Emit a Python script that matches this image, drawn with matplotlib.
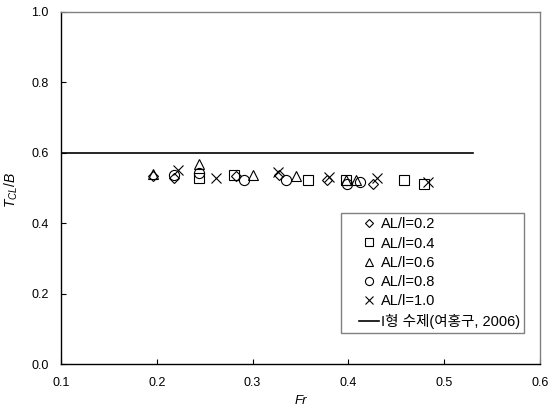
import matplotlib
matplotlib.use("Agg")
import numpy as np
import matplotlib.pyplot as plt
from matplotlib.legend_handler import HandlerLine2D

plt.rcParams['font.family'] = ['Liberation Sans', 'Noto Sans CJK KR', 'DejaVu Sans']
plt.rcParams['mathtext.fontset'] = 'custom'
plt.rcParams['mathtext.it'] = 'Liberation Sans:italic'
plt.rcParams['mathtext.rm'] = 'Liberation Sans'

# Measured points (Fr, T_CL/B) for each AL/l ratio
fr_02 = [0.196, 0.218, 0.283, 0.328, 0.378, 0.426]
tb_02 = [0.534, 0.527, 0.534, 0.536, 0.522, 0.512]

fr_04 = [0.244, 0.281, 0.358, 0.397, 0.458, 0.479]
tb_04 = [0.528, 0.538, 0.522, 0.524, 0.522, 0.510]

fr_06 = [0.196, 0.244, 0.300, 0.345, 0.397, 0.408]
tb_06 = [0.541, 0.569, 0.536, 0.534, 0.524, 0.524]

fr_08 = [0.218, 0.244, 0.291, 0.335, 0.399, 0.412]
tb_08 = [0.536, 0.543, 0.524, 0.522, 0.512, 0.517]

fr_10 = [0.222, 0.262, 0.326, 0.380, 0.430, 0.483]
tb_10 = [0.550, 0.527, 0.545, 0.531, 0.527, 0.517]

# Reference value (I-type hydrofoil, 2006)
ref_fr = [0.1, 0.53]
ref_tb = [0.6, 0.6]

labels = ['AL/l=0.2', 'AL/l=0.4', 'AL/l=0.6', 'AL/l=0.8', 'AL/l=1.0']
ref_label = 'I형 수제(여홍구, 2006)'

x_ticks = [0.1, 0.2, 0.3, 0.4, 0.5, 0.6]
y_ticks = [0.0, 0.2, 0.4, 0.6, 0.8, 1.0]


class RightHandler(HandlerLine2D):
    """Draw the legend key in the right part of the handle box."""
    frac = 0.58

    def create_artists(self, legend, orig_handle, xdescent, ydescent,
                       width, height, fontsize, trans):
        artists = super().create_artists(legend, orig_handle, xdescent, ydescent,
                                         width, height, fontsize, trans)
        x0 = -xdescent
        for a in artists:
            xd = np.asarray(a.get_xdata(), dtype=float)
            a.set_xdata(x0 + width * (1 - self.frac) + (xd - x0) * self.frac)
        return artists


fig = plt.figure(figsize=(5.51, 4.15), dpi=100)
ax = fig.add_axes([61 / 551, 1 - 364 / 415, (540 - 61) / 551, (364 - 12) / 415])

mk = dict(linestyle='none', markerfacecolor='none', markeredgecolor='black',
          markeredgewidth=0.8)
ax.plot(fr_02, tb_02, marker='D', markersize=5.2, label=labels[0], **mk)
ax.plot(fr_04, tb_04, marker='s', markersize=6.8, label=labels[1], **mk)
ax.plot(fr_06, tb_06, marker='^', markersize=7.5, label=labels[2], **mk)
ax.plot(fr_08, tb_08, marker='o', markersize=7.3, label=labels[3], **mk)
ax.plot(fr_10, tb_10, marker='x', markersize=7.0, label=labels[4], **mk)
ax.plot(ref_fr, ref_tb, color='black', linewidth=1.2, label=ref_label)

ax.set_xlim(0.1, 0.6)
ax.set_ylim(0.0, 1.0)
ax.set_xticks(x_ticks)
ax.set_yticks(y_ticks)
ax.set_xticklabels([f'{v:.1f}' for v in x_ticks])
ax.set_yticklabels([f'{v:.1f}' for v in y_ticks])
ax.tick_params(direction='in', length=3.5, width=0.8, labelsize=9, pad=9,
               top=False, right=False)

for side in ('left', 'bottom'):
    ax.spines[side].set_color('black')
    ax.spines[side].set_linewidth(1.0)
for side in ('top', 'right'):
    ax.spines[side].set_color('#808080')
    ax.spines[side].set_linewidth(1.0)

ax.set_xlabel('Fr', fontsize=9.5, style='italic', labelpad=5)
ax.set_ylabel(r'$T_{CL}/B$', fontsize=10)
ax.yaxis.set_label_coords((20 - 61) / 479, (364 - 190) / 352)

handles, _ = ax.get_legend_handles_labels()
leg = ax.legend(loc='lower right', bbox_to_anchor=((524 - 61) / 479, (364 - 333) / 352),
                frameon=True, fancybox=False, shadow=False, fontsize=10.5,
                borderpad=0.3, labelspacing=0.36, handlelength=2.3,
                handletextpad=0.12, borderaxespad=0.0, markerscale=0.8,
                handler_map={h: RightHandler() for h in handles})
leg.get_frame().set_edgecolor('#808080')
leg.get_frame().set_linewidth(1.0)
leg.get_frame().set_alpha(1.0)

fig.savefig('out.png', dpi=100)
